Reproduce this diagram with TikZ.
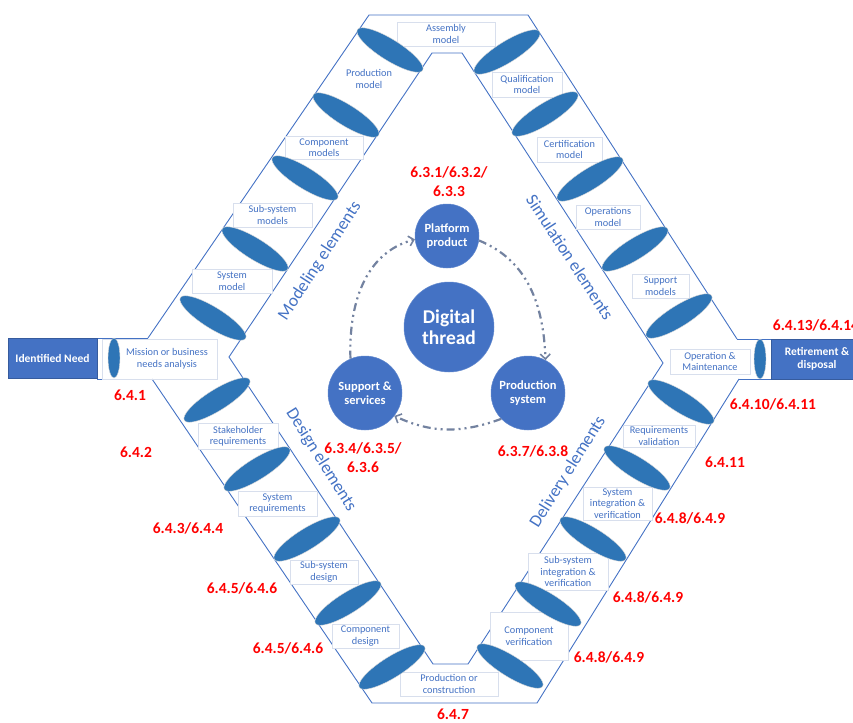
\documentclass[tikz,border=0pt]{standalone}
\usepackage{fontspec}
\setmainfont{Carlito}
\usetikzlibrary{shapes.geometric,arrows.meta}
\definecolor{bandblue}{HTML}{4472C4}
\definecolor{ellblue}{HTML}{2E75B6}
\definecolor{lblred}{HTML}{FF0000}
\definecolor{threadgray}{RGB}{115,130,160}
\definecolor{boxedge}{RGB}{216,223,237}
\begin{document}
\begin{tikzpicture}[x=1pt,y=-1pt,
  band/.style={draw=bandblue, line width=0.9pt, line join=miter},
  disc/.style={ellipse, fill=ellblue, draw=gray!30, line width=0.4pt,
    minimum width=77pt, minimum height=21pt, inner sep=0pt},
  tubedisc/.style={ellipse, fill=ellblue, draw=gray!30, line width=0.4pt,
    minimum width=12pt, minimum height=40pt, inner sep=0pt},
  lbl/.style={rectangle, draw=boxedge, line width=0.7pt, fill=white, text=bandblue,
    font=\fontsize{10.3}{11.5}\selectfont, align=center, inner sep=1pt},
  endbox/.style={rectangle, fill=bandblue, draw=bandblue!80!black, line width=0.5pt,
    text=white, font=\bfseries\fontsize{11.5}{13.5}\selectfont, align=center, inner sep=1pt},
  refno/.style={text=lblred, font=\bfseries\fontsize{15.5}{19}\selectfont, align=center, inner sep=0pt},
  hub/.style={circle, fill=bandblue, draw=bandblue!85!white, line width=0.5pt, text=white,
    font=\bfseries\fontsize{12.5}{14.5}\selectfont, align=center, inner sep=0pt},
  bandname/.style={text=bandblue, font=\fontsize{17.5}{20}\selectfont, inner sep=0pt},
  flow/.style={draw=threadgray, line width=2.2pt,
    dash pattern=on 8pt off 4pt on 2pt off 4pt on 2pt off 4pt,
    -{Straight Barb[length=5pt,width=10pt,line width=1.6pt]}}
]
\useasboundingbox (0,0) rectangle (853,722);

% ---- outer outline of the hexagonal band ----
\draw[band] (148,338) -- (369,15) -- (528,15) -- (737,339);
\draw[band] (739,379) -- (537,703) -- (372,703) -- (152,379);
% ---- inner outline ----
\draw[band] (229,357) -- (432,53) -- (462,53) -- (663,363) -- (468,664) -- (433,664) -- cycle;
% ---- side tubes ----
\draw[band] (97,338) -- (148,338);
\draw[band] (97,379) -- (152,379);
\draw[band] (737,339) -- (771,339);
\draw[band] (739,379) -- (771,379);
\draw[draw=boxedge, line width=0.7pt] (102,339.5) rectangle (217,379);

% ---- end boxes ----
\node[endbox, minimum width=89pt, minimum height=40pt] (need) at (52.5,358) {Identified Need};
\node[endbox, minimum width=92pt, minimum height=40pt] (retire) at (817,359) {Retirement \&\\disposal};

% ---- labels: modeling elements ----
\node[lbl, minimum width=98pt, minimum height=24pt] (assembly) at (446,34) {Assembly\\model};
\node[lbl, draw=none, minimum width=70pt, minimum height=24pt] (prodmod) at (369,79) {Production\\model};
\node[lbl, minimum width=78pt, minimum height=23pt] (compmod) at (324,147.5) {Component\\models};
\node[lbl, minimum width=79pt, minimum height=24pt] (subsysmod) at (272.5,215) {Sub-system\\models};
\node[lbl, minimum width=80pt, minimum height=24pt] (sysmod) at (232,281) {System\\model};
\node[lbl, draw=none, fill=none] (mission) at (167,359) {Mission or business\\needs analysis};

% ---- labels: simulation elements ----
\node[lbl, minimum width=70pt, minimum height=25pt] (qualmod) at (527,84.5) {Qualification\\model};
\node[lbl, minimum width=65pt, minimum height=25pt] (certmod) at (569.5,149.5) {Certification\\model};
\node[lbl, minimum width=64pt, minimum height=24pt] (opsmod) at (608,217) {Operations\\model};
\node[lbl, minimum width=57pt, minimum height=24pt] (suppmod) at (660.5,286) {Support\\models};
\node[lbl, minimum width=80pt, minimum height=25pt] (opmaint) at (710,361.5) {Operation \&\\Maintenance};

% ---- labels: design elements ----
\node[lbl, minimum width=80pt, minimum height=26pt] (stakereq) at (238,436) {Stakeholder\\requirements};
\node[lbl, minimum width=79pt, minimum height=25pt] (sysreq) at (277.5,503.5) {System\\requirements};
\node[lbl, minimum width=68pt, minimum height=24pt] (subsysdes) at (324,572) {Sub-system\\design};
\node[lbl, minimum width=67pt, minimum height=24pt] (compdes) at (365.5,636) {Component\\design};
\node[lbl, minimum width=98pt, minimum height=24pt] (prodcons) at (449,684) {Production or\\construction};

% ---- labels: delivery elements ----
\node[lbl, minimum width=78pt, minimum height=48pt] (compver) at (529,636) {Component\\verification};
\node[lbl, minimum width=80pt, minimum height=37pt] (subsysiv) at (568,571.5) {Sub-system\\integration \&\\verification};
\node[lbl, minimum width=69pt, minimum height=33pt] (sysiv) at (617.5,503.5) {System\\integration \&\\verification};
\node[lbl, minimum width=72pt, minimum height=22pt] (reqval) at (659,436) {Requirements\\validation};

% ---- discs across the band ----
\node[disc, rotate=-32] (m1) at (390,50) {};
\node[disc, rotate=-32] (m2) at (346,115) {};
\node[disc, rotate=-32] (m3) at (305,178) {};
\node[disc, rotate=-32] (m4) at (255,249) {};
\node[disc, rotate=-32] (m5) at (213,318) {};
\node[disc, rotate=32] (s1) at (507,52) {};
\node[disc, rotate=32] (s2) at (545,114) {};
\node[disc, rotate=32] (s3) at (590,179) {};
\node[disc, rotate=32] (s4) at (635,249) {};
\node[disc, rotate=32] (s5) at (679,316) {};
\node[disc, rotate=32] (d1) at (217,400) {};
\node[disc, rotate=32] (d2) at (257,469) {};
\node[disc, rotate=32] (d3) at (307,539) {};
\node[disc, rotate=32] (d4) at (348,603) {};
\node[disc, rotate=32] (d5) at (392,667) {};
\node[disc, rotate=-32] (v1) at (681,402) {};
\node[disc, rotate=-32] (v2) at (637,468) {};
\node[disc, rotate=-32] (v3) at (593,539) {};
\node[disc, rotate=-32] (v4) at (548,604) {};
\node[disc, rotate=-32] (v5) at (510,666) {};
\node[tubedisc] (t1) at (114,358) {};
\node[tubedisc] (t2) at (760,359) {};

% ---- band names ----
\node[bandname, rotate=57] (modname) at (320,261) {Modeling elements};
\node[bandname, rotate=-57] (simname) at (570,257) {Simulation elements};
\node[bandname, rotate=-58] (desname) at (321,460) {Design elements};
\node[bandname, rotate=58] (delname) at (568,472) {Delivery elements};

% ---- digital thread hub ----
\node[hub, minimum size=90pt, font=\bfseries\fontsize{19.5}{21}\selectfont] (thread) at (449,327) {Digital\\thread};
\node[hub, minimum size=64pt] (platform) at (447,236) {Platform\\product};
\node[hub, minimum size=74pt] (support) at (365,393) {Support \&\\services};
\node[hub, minimum size=74pt] (prodsys) at (528,393) {Production\\system};

\draw[flow] (platform.-8) to[out=-22, in=92] (prodsys.62);
\draw[flow] (prodsys.-136) to[out=200, in=-25] (support.-38);
\draw[flow] (support.113) to[out=92, in=195] (platform.186);

% ---- clause numbers ----
\node[refno] (r631) at (449,182) {6.3.1/6.3.2/\\6.3.3};
\node[refno] (r634) at (363,458) {6.3.4/6.3.5/\\6.3.6};
\node[refno] (r637) at (533,451) {6.3.7/6.3.8};
\node[refno] (r641) at (130,395) {6.4.1};
\node[refno] (r642) at (136,452) {6.4.2};
\node[refno] (r643) at (188,528) {6.4.3/6.4.4};
\node[refno] (r645a) at (242,588) {6.4.5/6.4.6};
\node[refno] (r645b) at (288,648) {6.4.5/6.4.6};
\node[refno] (r647) at (453,714.5) {6.4.7};
\node[refno] (r648a) at (609,657) {6.4.8/6.4.9};
\node[refno] (r648b) at (648,597) {6.4.8/6.4.9};
\node[refno] (r648c) at (690,518) {6.4.8/6.4.9};
\node[refno] (r6411) at (725,462) {6.4.11};
\node[refno] (r6410) at (773,404) {6.4.10/6.4.11};
\node[refno] (r6413) at (816,325) {6.4.13/6.4.14};
\end{tikzpicture}
\end{document}
